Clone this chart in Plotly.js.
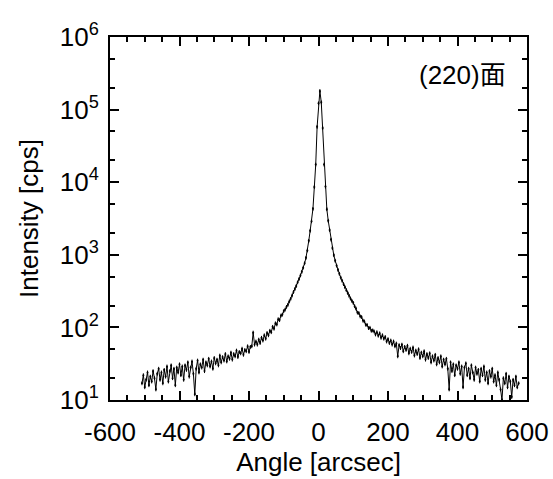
<!DOCTYPE html>
<html>
<head>
<meta charset="utf-8">
<script src="https://cdn.plot.ly/plotly-3.0.1.min.js"></script>
<style>html,body{margin:0;padding:0;background:#fff;}#chart{width:553px;height:479px;}</style>
</head>
<body>
<div id="chart"></div>
<script>
// Scan grid: angle from -508 to 576 arcsec in 4 arcsec steps
var angleStart = -508;
var angleStep = 4;
// Measured intensities [cps], one row = 10 scan points (40 arcsec)
var intensity = [
  17,22,15,19,24,16,21,18,25,20,            // -508
  14,23,27,19,24,17,26,21,29,18,            // -468
  25,30,20,27,16,28,24,31,22,29,            // -428
  19,30,26,33,21,28,34,23,12,27,            // -388
  35,24,31,28,36,25,33,30,37,29,            // -348
  34,27,38,32,36,30,41,33,39,35,            // -308
  43,34,40,37,45,36,43,40,48,39,            // -268
  46,44,51,42,49,47,55,46,54,55,            // -228
  85,58,64,58,68,61,72,66,78,70,            // -188
  84,78,90,86,102,96,114,110,130,126,       // -148
  146,150,168,176,192,205,228,248,275,308,  // -108
  338,372,418,465,520,585,665,765,910,1150, // -68
  1560,2150,2900,4300,8600,17500,58000,122000,181000,126000, // -28
  56000,17500,8700,4250,2950,2200,1620,1240,990,830,         // 12
  710,620,548,485,440,395,358,326,298,272,  // 52
  250,232,218,196,182,160,158,142,139,124,  // 92
  121,109,108,98,99,90,91,88,80,86,         // 132
  77,83,72,78,70,74,64,69,61,66,            // 172
  58,64,55,60,40,57,52,58,47,54,            // 212
  49,56,44,51,46,53,41,48,43,50,            // 252
  38,45,40,47,36,43,38,44,33,40,            // 292
  35,42,31,38,33,40,29,36,31,37,            // 332
  27,14,33,25,31,22,30,27,33,23,            // 372
  29,15,28,32,22,27,20,30,24,19,            // 412
  28,23,26,18,27,22,29,19,24,17,            // 452
  25,21,27,18,22,16,24,19,14,10,            // 492
  20,17,23,15,21,18,11,19,16,21,            // 532
  15,17                                     // 572
];
var angle = intensity.map(function(_, i){ return angleStart + i*angleStep; });

var yTickVals = [10, 100, 1000, 10000, 100000, 1000000];
var yTickText = ['10<sup>1</sup>','10<sup>2</sup>','10<sup>3</sup>','10<sup>4</sup>','10<sup>5</sup>','10<sup>6</sup>'];
var xTickVals = [-600, -400, -200, 0, 200, 400, 600];
var xTickText = ['-600','-400','-200','0','200','400','600'];
var labelText = '(220)面';

var font = 'Liberation Sans, Arial, Helvetica, Noto Sans CJK JP, sans-serif';
var fs = 26;

var trace = {
  x: angle, y: intensity, type: 'scatter', mode: 'lines+markers',
  line: {color: '#000', width: 1},
  marker: {color: '#000', size: 2},
  error_y: {type: 'percent', value: 6, color: '#000', thickness: 1, width: 0},
  showlegend: false, hoverinfo: 'skip'
};

var layout = {
  width: 553, height: 479,
  margin: {l: 110, r: 26, t: 37, b: 79},
  font: {family: font, size: fs, color: '#000'},
  xaxis: {
    range: [-600, 600], tickvals: xTickVals, ticktext: xTickText,
    ticks: 'inside', ticklen: 9, tickwidth: 2, tickcolor: '#000',
    minor: {dtick: 50, ticks: 'inside', ticklen: 5, tickwidth: 2, tickcolor: '#000'},
    showline: true, linecolor: '#000', linewidth: 2, mirror: 'ticks',
    showgrid: false, zeroline: false,
    tickfont: {family: font, size: fs, color: '#000'},
    ticklabelstandoff: 8,
    title: {text: 'Angle [arcsec]', font: {family: font, size: fs, color: '#000'}, standoff: 6}
  },
  yaxis: {
    type: 'log', range: [1, 6], tickvals: yTickVals, ticktext: yTickText,
    ticks: 'inside', ticklen: 9, tickwidth: 2, tickcolor: '#000',
    minor: {ticks: 'inside', ticklen: 5, tickwidth: 2, tickcolor: '#000'},
    showline: true, linecolor: '#000', linewidth: 2, mirror: 'ticks',
    showgrid: false, zeroline: false,
    tickfont: {family: font, size: fs, color: '#000'},
    ticklabelstandoff: 4,
    title: {text: 'Intensity [cps]', font: {family: font, size: fs, color: '#000'}, standoff: 14}
  },
  annotations: [{
    text: labelText, xref: 'paper', yref: 'paper', x: 0.955, y: 0.895,
    xanchor: 'right', yanchor: 'middle', showarrow: false,
    font: {family: font, size: fs, color: '#000'}
  }]
};

Plotly.newPlot('chart', [trace], layout, {displayModeBar: false});
</script>
</body>
</html>
